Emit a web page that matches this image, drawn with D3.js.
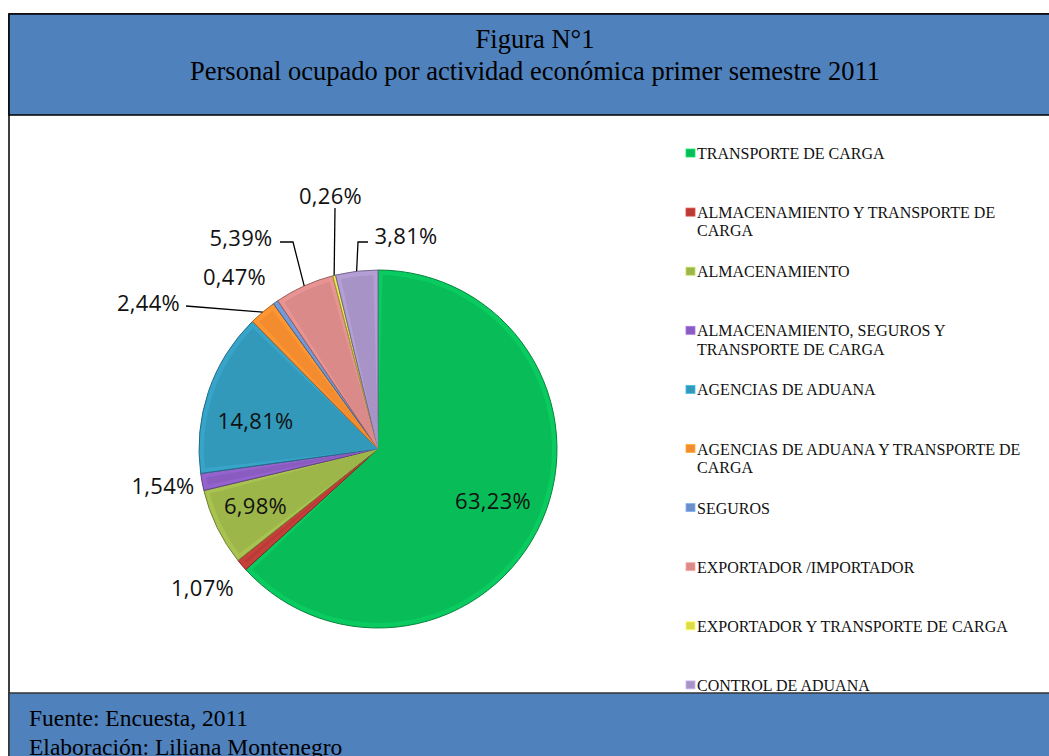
<!DOCTYPE html>
<html>
<head>
<meta charset="utf-8">
<script src="https://cdn.jsdelivr.net/npm/d3@7"></script>
<style>
  body { margin: 0; background: #fff; }
</style>
</head>
<body>
<div id="chart"></div>
<script>
const categories = [
  'TRANSPORTE DE CARGA',
  'ALMACENAMIENTO Y TRANSPORTE DE CARGA',
  'ALMACENAMIENTO',
  'ALMACENAMIENTO, SEGUROS Y TRANSPORTE DE CARGA',
  'AGENCIAS DE ADUANA',
  'AGENCIAS DE ADUANA Y TRANSPORTE DE CARGA',
  'SEGUROS',
  'EXPORTADOR /IMPORTADOR',
  'EXPORTADOR Y TRANSPORTE DE CARGA',
  'CONTROL DE ADUANA'
];
const shares = [63.23, 1.07, 6.98, 1.54, 14.81, 2.44, 0.47, 5.39, 0.26, 3.81];
const sliceColors = ['#08bd58', '#b83b36', '#9cb64a', '#8a5cbf', '#3399bb',
                     '#f28c2e', '#6a8fc9', '#d98a89', '#dcdc46', '#a893c7'];
const titleLines = ['Figura N°1', 'Personal ocupado por actividad económica primer semestre 2011'];
const footerLines = ['Fuente: Encuesta, 2011', 'Elaboración: Liliana Montenegro'];

const width = 1049, height = 756;
const cx = 378, cy = 449, radius = 179;
const band = '#4f81bd';

// where Excel put each label, relative to the pie centre
const labelSpots = [
  { dx: 115, dy: 51 },
  { dx: -175.5, dy: 138 },
  { dx: -122.5, dy: 56 },
  { dx: -215, dy: 36 },
  { dx: -122.5, dy: -29 },
  { dx: -229.5, dy: -147, end: [37.5, 4] },
  { dx: -143.5, dy: -173 },
  { dx: -137, dy: -212, end: [39, 5], elbow: 13 },
  { dx: -47.5, dy: -254, end: [4.5, 13] },
  { dx: 28, dy: -214, end: [-38, 7], elbow: -10 }
];

const pct = d3.formatLocale({ decimal: ',', thousands: '.', grouping: [3], currency: ['', ''] }).format('.2f');

const svg = d3.select('#chart')
  .append('svg')
  .attr('width', width)
  .attr('height', height)
  .attr('viewBox', [0, 0, width, height]);

// frame, title band and footer band
svg.append('rect')
  .attr('x', 9).attr('y', 14).attr('width', 1060).attr('height', 760)
  .attr('fill', '#fff').attr('stroke', '#000').attr('stroke-width', 1.5);
svg.append('rect')
  .attr('x', 9).attr('y', 14).attr('width', 1060).attr('height', 101)
  .attr('fill', band).attr('stroke', '#000').attr('stroke-width', 1.5);
svg.append('rect')
  .attr('x', 9).attr('y', 693).attr('width', 1060).attr('height', 80)
  .attr('fill', band).attr('stroke', '#333').attr('stroke-width', 1.5);

svg.append('g')
  .selectAll('text')
  .data(titleLines)
  .join('text')
  .attr('x', 535)
  .attr('y', (d, i) => 48 + i * 32)
  .attr('text-anchor', 'middle')
  .attr('font-family', '"Liberation Serif", "Times New Roman", serif')
  .attr('font-size', 26.5)
  .attr('fill', '#000')
  .text(d => d);

svg.append('g')
  .selectAll('text')
  .data(footerLines)
  .join('text')
  .attr('x', 29)
  .attr('y', (d, i) => 718 + i * 29)
  .attr('dominant-baseline', 'central')
  .attr('font-family', '"Liberation Serif", "Times New Roman", serif')
  .attr('font-size', 23.5)
  .attr('fill', '#000')
  .text(d => d);

// pie
const pie = d3.pie().sort(null).value(d => d);
const arcs = pie(shares);

const outer = d3.arc().innerRadius(0).outerRadius(radius);
const inner = d3.arc().innerRadius(0).outerRadius(radius - 5)
  .padRadius(radius - 5).padAngle(9 / (radius - 5));

const pieG = svg.append('g').attr('transform', `translate(${cx},${cy})`);

pieG.selectAll('path.rim')
  .data(arcs)
  .join('path')
  .attr('class', 'rim')
  .attr('d', outer)
  .attr('fill', (d, i) => d3.color(sliceColors[i]).brighter(0.2))
  .attr('stroke', (d, i) => d3.color(sliceColors[i]).darker(1))
  .attr('stroke-width', 1);

pieG.selectAll('path.face')
  .data(arcs)
  .join('path')
  .attr('class', 'face')
  .attr('d', inner)
  .attr('fill', (d, i) => sliceColors[i]);

// leader lines
const edgePoint = d => {
  const a = (d.startAngle + d.endAngle) / 2;
  return [Math.sin(a) * radius, -Math.cos(a) * radius];
};

const leaders = arcs.map((d, i) => {
  const s = labelSpots[i];
  if (!s.end) return null;
  const end = [s.dx + s.end[0], s.dy + s.end[1]];
  const pts = [edgePoint(d)];
  if (s.elbow) pts.push([end[0] + s.elbow, end[1]]);
  pts.push(end);
  return pts;
}).filter(p => p);

pieG.selectAll('path.leader')
  .data(leaders)
  .join('path')
  .attr('class', 'leader')
  .attr('d', d3.line())
  .attr('fill', 'none')
  .attr('stroke', '#000')
  .attr('stroke-width', 1.3);

pieG.selectAll('text.lbl')
  .data(arcs)
  .join('text')
  .attr('class', 'lbl')
  .attr('x', (d, i) => labelSpots[i].dx)
  .attr('y', (d, i) => labelSpots[i].dy)
  .attr('text-anchor', 'middle')
  .attr('dominant-baseline', 'central')
  .attr('font-family', '"Open Sans", sans-serif')
  .attr('font-size', 22)
  .attr('letter-spacing', 0.3)
  .attr('fill', '#111')
  .text(d => pct(d.data) + '%');

// legend
const legendX = 686, legendY = 153, legendStep = 59.1, wrapWidth = 330;

const legend = svg.append('g')
  .selectAll('g')
  .data(categories)
  .join('g')
  .attr('transform', (d, i) => `translate(${legendX},${legendY + i * legendStep})`);

legend.append('rect')
  .attr('x', 0).attr('y', -4)
  .attr('width', 9).attr('height', 8)
  .attr('fill', (d, i) => sliceColors[i])
  .attr('stroke', (d, i) => d3.color(sliceColors[i]).brighter(0.6))
  .attr('stroke-width', 0.8);

legend.append('text')
  .attr('x', 11)
  .attr('dominant-baseline', 'central')
  .attr('font-family', '"Liberation Serif", "Times New Roman", serif')
  .attr('font-size', 16)
  .attr('fill', '#111')
  .each(function(d) {
    const t = d3.select(this);
    const words = d.split(' ');
    let line = [];
    let lineNo = 0;
    let span = t.append('tspan').attr('x', 11).attr('y', 0);
    words.forEach(w => {
      line.push(w);
      span.text(line.join(' '));
      if (span.node().getComputedTextLength() > wrapWidth && line.length > 1) {
        line.pop();
        span.text(line.join(' '));
        line = [w];
        lineNo++;
        span = t.append('tspan').attr('x', 11).attr('y', lineNo * 18.4).text(w);
      }
    });
  });
</script>
</body>
</html>
